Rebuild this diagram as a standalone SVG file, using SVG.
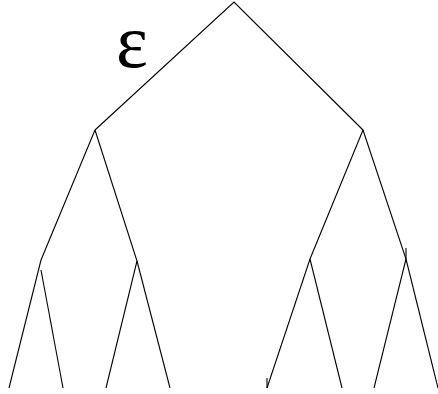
<svg xmlns="http://www.w3.org/2000/svg" width="438" height="394" viewBox="0 0 438 394">
<style>
.e{stroke:#000;stroke-width:1.1;fill:none}
.lbl{font-family:"Liberation Serif","DejaVu Serif",serif;font-size:76px;fill:#000}
</style>
<rect width="438" height="394" fill="#fff"/>
<g id="connectors">
<polyline class="e" points="95,130 234,2 363,130"/>
<polyline class="e" points="95,130 41,260 9,388"/>
<line class="e" x1="41" y1="270" x2="63" y2="388"/>
<polyline class="e" points="95,130 137,261 106,388"/>
<line class="e" x1="137" y1="261" x2="170" y2="388"/>
<polyline class="e" points="363,130 310,259 267,388"/>
<line class="e" x1="267" y1="378" x2="267" y2="388"/>
<line class="e" x1="310" y1="259" x2="342" y2="388"/>
<polyline class="e" points="363,130 406,259 374,388"/>
<line class="e" x1="406" y1="248" x2="406" y2="259"/>
<line class="e" x1="406" y1="259" x2="438" y2="388"/>
</g>
<g id="label"><text class="lbl" x="132" y="67" text-anchor="middle">ε</text></g>
</svg>
